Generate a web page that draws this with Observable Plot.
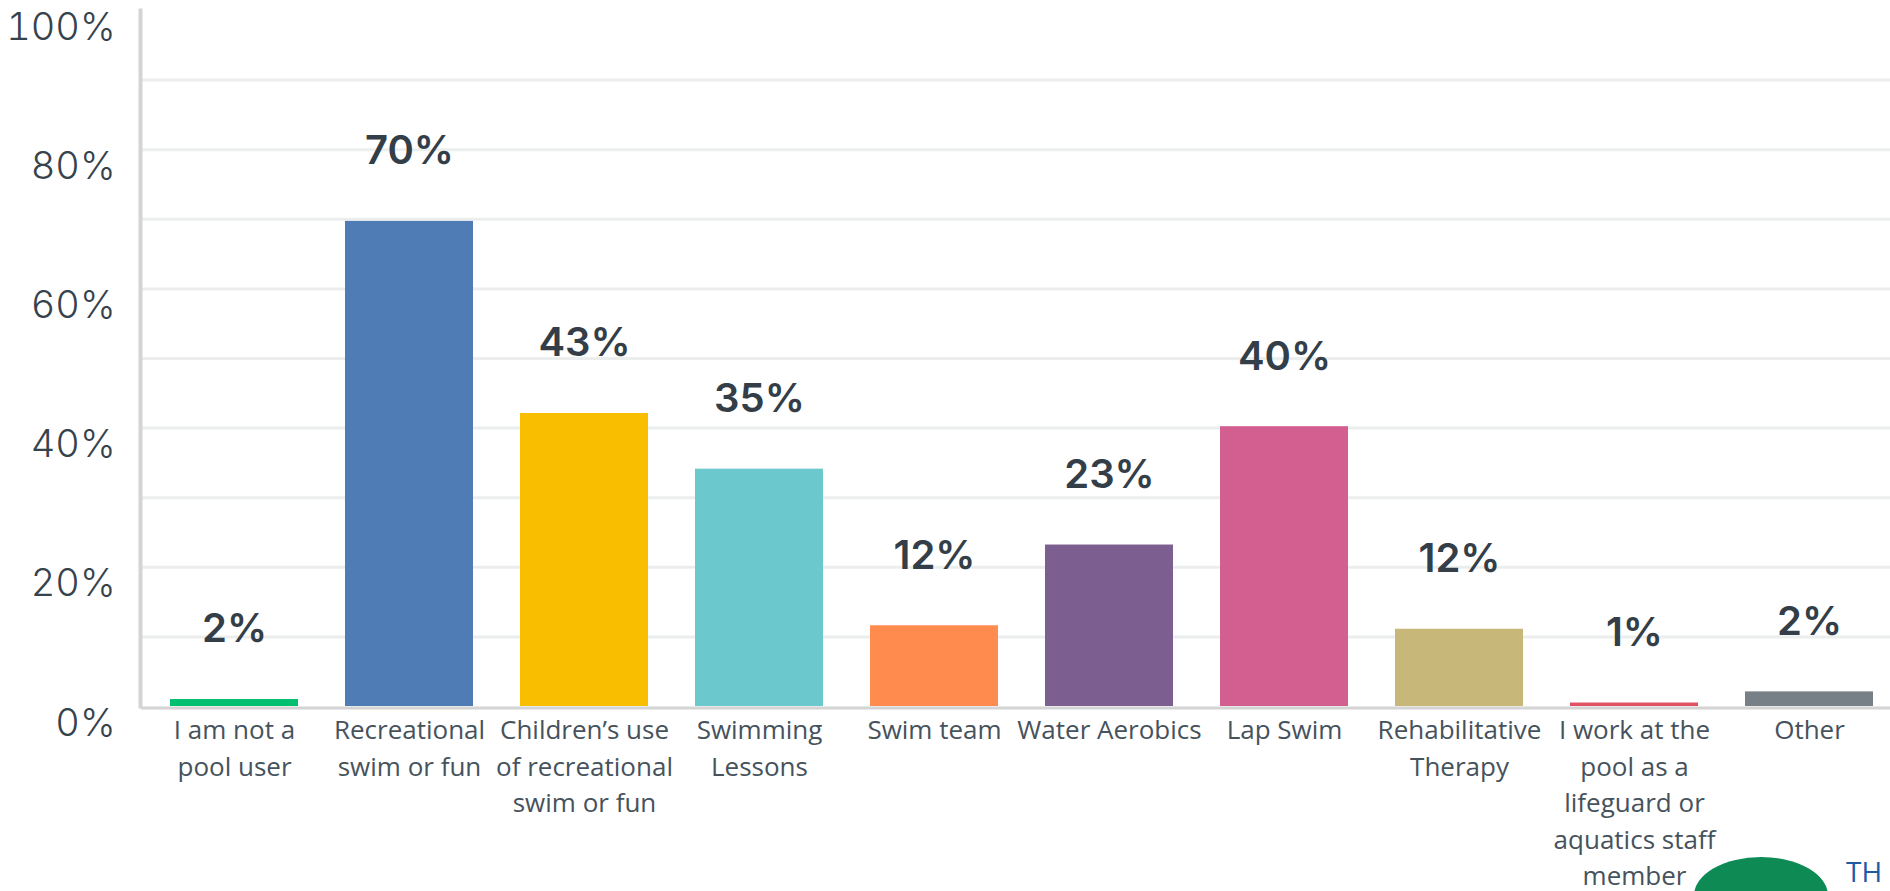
<!DOCTYPE html>
<html>
<head>
<meta charset="utf-8">
<script src="https://cdn.jsdelivr.net/npm/d3@7"></script>
<script src="https://cdn.jsdelivr.net/npm/@observablehq/plot@0.6"></script>
<style>
  html, body { margin: 0; padding: 0; background: #fff; }
  #wrap { position: relative; width: 1890px; height: 891px; overflow: hidden; }
  #logo { position: absolute; left: 1846px; top: 857px; font: 28px/28px "Open Sans", sans-serif; color: #1f5aa6; }
  #tree { position: absolute; left: 1694px; top: 857px; width: 134px; height: 70px; background: #0e8a55; border-radius: 50% 50% 0 0 / 55% 55% 0 0; }
</style>
</head>
<body>
<div id="wrap"><div id="chart"></div><div id="tree"></div><div id="logo">TH</div></div>
<script>
const categories = ["I am not a pool user", "Recreational swim or fun", "Children’s use of recreational swim or fun", "Swimming Lessons", "Swim team", "Water Aerobics", "Lap Swim", "Rehabilitative Therapy", "I work at the pool as a lifeguard or aquatics staff member", "Other"];
const tickLines = ["I am not a\npool user", "Recreational\nswim or fun", "Children’s use\nof recreational\nswim or fun", "Swimming\nLessons", "Swim team", "Water Aerobics", "Lap Swim", "Rehabilitative\nTherapy", "I work at the\npool as a\nlifeguard or\naquatics staff\nmember", "Other"];
const values = [1.0, 69.7, 42.1, 34.1, 11.6, 23.2, 40.2, 11.1, 0.5, 2.1];
const valueLabels = ["2%", "70%", "43%", "35%", "12%", "23%", "40%", "12%", "1%", "2%"];
const colors = ["#00bf6f", "#507cb6", "#f9be00", "#6bc8cd", "#ff8b4f", "#7d5e90", "#d25f90", "#c7b879", "#e05262", "#768086"];
const yTicks = [0, 20, 40, 60, 80, 100];
const gridTicks = [10, 20, 30, 40, 50, 60, 70, 80, 90];

const data = categories.map((c, i) => ({cat: c, value: values[i], label: valueLabels[i], tick: tickLines[i], color: colors[i]}));

const chart = Plot.plot({
  width: 1890,
  height: 891,
  marginLeft: 141,
  marginRight: 0,
  marginTop: 10,
  marginBottom: 185,
  style: {fontFamily: "Inter, sans-serif", background: "white", overflow: "hidden"},
  x: {domain: categories, range: [143, 1900], paddingInner: 0.266, paddingOuter: 0.133, axis: null},
  y: {domain: [0, 100], axis: null},
  marks: [
    Plot.ruleY(gridTicks, {stroke: "#eceeee", strokeWidth: 3}),
    Plot.barY(data, {x: "cat", y: "value", fill: "color"}),
    Plot.ruleY([0], {stroke: "#d4d4d4", strokeWidth: 3, dy: 1.5}),
    Plot.frame({anchor: "left", stroke: "#d4d4d4", strokeWidth: 4, dx: -1}),
    Plot.axisY(yTicks, {label: null, tickSize: 0, tickPadding: 26, dy: 17, tickFormat: d => d + "%", fontSize: 38, fontWeight: 300, fill: "#36424c", fontFamily: "Inter, sans-serif"}),
    Plot.text(data, {x: "cat", y: "value", text: "label", dy: -70, fontSize: 40, fontWeight: 600, fill: "#333e48", fontFamily: "Inter, sans-serif"}),
    Plot.text(data, {x: "cat", y: () => 0, text: "tick", dy: 7, lineAnchor: "top", lineHeight: 1.4, fontSize: 26, fill: "#46525c", fontFamily: "'Open Sans', sans-serif"})
  ]
});
document.getElementById("chart").appendChild(chart);
</script>
</body>
</html>
